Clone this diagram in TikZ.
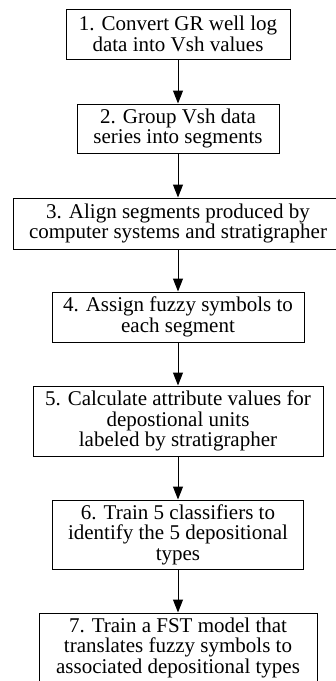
\documentclass[tikz,border=0pt]{standalone}
\usepackage{fontspec}
\setmainfont{Liberation Serif}
\usetikzlibrary{arrows.meta}
\begin{document}
\begin{tikzpicture}[x=1pt,y=1pt,
  stepbox/.style={draw=black, line width=1pt, align=center, inner sep=0pt,
    font=\fontsize{21pt}{20.5pt}\selectfont},
  flow/.style={-{Triangle[length=13pt,width=10pt]}, line width=1pt}]
\useasboundingbox (0,0) rectangle (336,-681);
\node[stepbox, minimum width=224pt, minimum height=50pt] (s1) at (178,-34)
  {1. Convert GR well log\\data into Vsh values};
\node[stepbox, minimum width=202pt, minimum height=49pt] (s2) at (178,-128.5)
  {2. Group Vsh data\\series into segments};
\node[stepbox, minimum width=330pt, minimum height=51pt] (s3) at (178,-223.5)
  {3. Align segments produced by\\computer systems and stratigrapher};
\node[stepbox, minimum width=252pt, minimum height=50pt] (s4) at (178,-317)
  {4. Assign fuzzy symbols to\\each segment};
\node[stepbox, minimum width=290pt, minimum height=70pt] (s5) at (178,-421)
  {5. Calculate attribute values for\\depostional units\\labeled by stratigrapher};
\node[stepbox, minimum width=251pt, minimum height=69pt] (s6) at (178,-534.5)
  {6. Train 5 classifiers to\\identify the 5 depositional\\types};
\node[stepbox, minimum width=278pt, minimum height=69pt] (s7) at (178,-647.5)
  {7. Train a FST model that\\translates fuzzy symbols to\\associated depositional types};
\draw[flow] (s1) -- (s2);
\draw[flow] (s2) -- (s3);
\draw[flow] (s3) -- (s4);
\draw[flow] (s4) -- (s5);
\draw[flow] (s5) -- (s6);
\draw[flow] (s6) -- (s7);
\end{tikzpicture}
\end{document}
